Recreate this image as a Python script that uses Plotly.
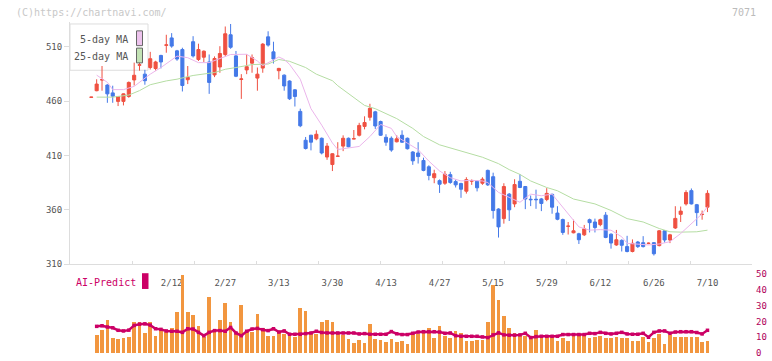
import plotly.graph_objects as go

# ---------------- data ----------------
tick_idx = [15, 25, 35, 45, 55, 65, 75, 85, 95, 105, 115]
tick_text = ["2/12", "2/27", "3/13", "3/30", "4/13", "4/27", "5/15", "5/29", "6/12", "6/26", "7/10"]

opens = [463.4, 469.5, 479.3, 474.7, 467.5, 459.7, 459.7, 464.2, 479.4, 492.9,
         484.7, 490.8, 489.9, 501.9, 511.2, 518.0, 506.1, 507.3, 479.6, 514.5,
         498.2, 500.3, 495.9, 484.0, 491.3, 502.8, 520.9, 501.5, 479.9, 488.6,
         494.8, 481.1, 490.3, 519.0, 505.2, 487.9, 483.8, 478.4, 470.3, 450.5,
         424.0, 428.6, 425.3, 425.8, 408.6, 401.7, 409.2, 418.6, 425.8, 425.2,
         428.6, 436.7, 445.1, 450.1, 441.2, 426.7, 425.8, 422.6, 428.6, 425.8,
         413.2, 412.3, 405.4, 399.6, 389.6, 386.9, 384.5, 392.4, 386.0, 384.2,
         377.2, 386.5, 386.3, 384.5, 396.3, 390.5, 360.8, 352.0, 374.5, 365.5,
         386.3, 381.5, 369.8, 369.8, 370.1, 369.6, 374.3, 357.1, 351.1, 344.9,
         339.0, 338.1, 337.1, 351.0, 348.9, 346.5, 355.2, 337.7, 327.8, 332.0,
         326.3, 321.8, 330.5, 329.9, 329.2, 329.9, 327.2, 340.8, 332.4, 343.4,
         355.9, 365.5, 377.7, 364.8, 355.8, 362.5]
highs = [463.8, 480.0, 492.2, 475.5, 474.1, 464.5, 467.0, 478.0, 495.3, 498.9,
         488.7, 505.2, 497.0, 502.5, 520.9, 522.4, 507.0, 509.0, 492.2, 519.6,
         512.7, 506.5, 502.8, 501.0, 510.4, 528.5, 530.8, 506.0, 484.7, 502.8,
         502.8, 490.8, 513.2, 524.1, 514.5, 490.5, 484.5, 479.0, 471.0, 453.0,
         427.0, 429.0, 433.1, 426.5, 421.5, 412.0, 422.2, 428.5, 426.5, 433.4,
         440.0, 446.0, 457.5, 451.0, 442.0, 429.5, 427.5, 428.6, 433.1, 426.5,
         414.0, 422.2, 408.0, 401.0, 396.9, 388.0, 395.7, 395.0, 387.8, 385.0,
         390.0, 388.0, 387.0, 390.0, 397.0, 394.2, 361.5, 384.5, 375.5, 388.2,
         392.8, 382.0, 373.2, 378.6, 371.0, 380.0, 375.0, 363.4, 352.0, 348.9,
         351.0, 339.0, 346.2, 352.0, 352.0, 352.0, 358.0, 338.5, 341.6, 333.0,
         336.2, 332.9, 331.5, 335.9, 330.0, 330.5, 341.5, 341.5, 338.0, 363.4,
         363.1, 378.1, 379.7, 365.5, 359.4, 378.1]
lows = [463.2, 469.0, 469.5, 458.4, 458.4, 455.4, 456.0, 463.0, 474.3, 487.9,
        475.0, 489.0, 488.0, 490.0, 504.4, 509.0, 497.0, 468.8, 475.6, 500.0,
        496.8, 495.9, 466.6, 482.0, 486.0, 501.0, 508.0, 482.0, 462.0, 484.7,
        486.0, 469.5, 486.0, 510.0, 494.5, 480.0, 469.5, 461.0, 455.0, 436.0,
        415.5, 414.7, 424.0, 411.0, 406.0, 395.7, 409.0, 414.0, 417.5, 425.0,
        427.5, 434.0, 442.0, 434.4, 428.0, 418.9, 413.4, 422.0, 421.5, 415.5,
        401.4, 402.6, 395.5, 387.2, 384.5, 375.6, 383.0, 384.0, 380.6, 371.1,
        375.0, 383.0, 377.0, 383.0, 382.0, 352.0, 334.6, 347.4, 349.8, 362.5,
        380.0, 360.7, 363.5, 361.0, 358.9, 368.0, 356.5, 350.5, 337.1, 337.4,
        338.5, 328.7, 336.0, 339.3, 339.3, 345.0, 334.0, 324.4, 327.0, 321.8,
        321.0, 321.0, 325.0, 325.5, 328.5, 318.1, 326.5, 330.0, 329.5, 342.5,
        348.9, 364.0, 365.0, 345.3, 351.0, 358.0]
closes = [463.6, 475.6, 479.7, 466.6, 464.5, 464.2, 466.6, 477.1, 483.7, 493.3,
          478.7, 498.9, 495.9, 495.9, 511.6, 510.5, 498.6, 474.3, 481.8, 501.5,
          507.3, 505.8, 477.1, 499.1, 503.7, 521.8, 509.4, 482.8, 480.3, 491.6,
          499.9, 484.7, 512.3, 511.4, 498.6, 490.0, 473.9, 462.1, 464.2, 437.3,
          416.4, 422.2, 429.5, 412.3, 418.6, 411.6, 409.4, 425.8, 418.0, 425.4,
          437.6, 440.3, 453.3, 437.1, 428.6, 422.2, 415.0, 425.3, 422.2, 416.2,
          405.1, 409.0, 396.3, 391.7, 393.3, 383.6, 392.7, 385.2, 383.0, 379.0,
          387.8, 386.7, 380.3, 388.2, 383.0, 359.4, 344.4, 381.5, 360.1, 383.3,
          380.6, 370.0, 369.4, 369.4, 365.9, 375.2, 362.5, 351.4, 339.3, 345.1,
          340.8, 332.6, 342.6, 348.3, 343.8, 351.0, 334.7, 329.6, 332.6, 327.5,
          321.8, 329.3, 326.3, 326.3, 329.4, 319.7, 340.8, 332.4, 337.1, 352.2,
          358.9, 376.0, 365.5, 357.5, 356.0, 375.2]

ma5_idx = [1, 3, 4, 6, 8, 9, 11, 13, 16, 18, 20, 22, 24, 26, 29, 31, 32, 35, 36, 37,
           39, 41, 43, 45, 46, 48, 50, 52, 54, 56, 57, 59, 61, 63, 65, 67, 69, 71, 73, 74,
           76, 78, 80, 82, 84, 86, 87, 89, 91, 93, 95, 97, 99, 100, 102, 104, 106, 108, 110, 112,
           114, 115]
ma5_val = [483.8, 477.2, 470.5, 470.5, 473.5, 477.2, 484.7, 490.8, 501.3, 499.8,
           495.3, 495.3, 498.9, 502.8, 503.0, 496.8, 492.5, 500.5, 498.2, 493.7,
           480.1, 453.0, 437.9, 421.5, 415.5, 416.8, 418.3, 427.4, 438.5, 434.9,
           427.4, 421.3, 415.4, 404.8, 395.8, 389.6, 386.6, 387.2, 386.6, 385.1,
           376.1, 371.5, 367.0, 374.5, 373.0, 374.5, 368.4, 356.4, 344.4, 341.4,
           341.9, 341.4, 335.3, 329.3, 328.7, 327.8, 328.7, 330.8, 338.3, 347.3,
           356.4, 363.0]

ma25_idx = [1, 4, 7, 9, 11, 14, 16, 19, 23, 25, 27, 30, 33, 35, 37, 40, 42, 45, 46, 48,
            51, 53, 55, 57, 60, 62, 65, 67, 69, 73, 76, 78, 80, 82, 85, 87, 90, 94, 97, 100,
            103, 106, 108, 110, 113, 115]
ma25_val = [463.6, 463.6, 465.5, 469.6, 475.0, 478.5, 480.1, 483.5, 486.2, 489.2,
            490.8, 493.5, 494.0, 498.2, 496.5, 490.8, 484.7, 478.7, 474.1, 466.6,
            456.0, 453.0, 448.5, 443.9, 434.9, 427.4, 419.8, 416.8, 413.8, 408.4,
            402.5, 397.0, 392.6, 386.6, 380.6, 377.6, 370.0, 365.5, 359.5, 352.0,
            348.9, 342.9, 339.9, 339.6, 339.9, 341.4]

volume = [None, 11.2, 14.4, 21.2, 9.4, 8.8, 9.4, 10.0, 19.4, 19.4,
          12.5, 19.4, 10.6, 14.4, 13.1, 15.6, 26.2, 49.4, 26.2, 24.4,
          16.9, 10.0, 35.6, 14.4, 20.6, 31.9, 19.4, 13.1, 30.6, 14.4,
          13.1, 25.0, 15.6, 10.6, 10.6, 13.1, 11.9, 12.5, 10.0, 28.8,
          26.9, 12.5, 11.9, 19.4, 20.6, 19.4, 12.5, 11.2, 8.8, 6.2,
          8.1, 6.2, 18.1, 8.8, 8.1, 6.9, 8.8, 6.9, 7.5, 6.0,
          12.0, 12.0, 12.7, 16.0, 9.2, 17.3, 10.8, 9.8, 14.2, 12.9,
          7.3, 7.9, 8.5, 8.5, 19.8, 42.9, 33.5, 23.5, 16.0, 12.9,
          11.7, 11.0, 9.8, 14.8, 9.8, 10.4, 10.4, 7.9, 9.2, 7.3,
          12.9, 11.7, 11.7, 9.2, 10.4, 11.0, 9.8, 9.2, 10.4, 9.8,
          9.2, 7.3, 7.3, 10.4, 6.7, 9.8, 12.3, 6.0, 11.7, 10.4,
          10.4, 10.4, 10.4, 10.4, 6.7, 7.3]

ai_predict = [None, 16.9, 17.3, 16.5, 16.0, 14.4, 14.0, 14.5, 17.5, 18.3,
              18.5, 17.7, 15.4, 15.0, 14.0, 13.8, 13.8, 13.1, 15.4, 15.2,
              13.1, 11.0, 13.1, 14.2, 14.2, 13.8, 16.2, 12.7, 11.0, 13.8,
              15.2, 15.6, 14.8, 14.2, 15.4, 13.3, 14.0, 11.9, 11.9, 11.9,
              12.3, 12.7, 13.8, 13.0, 12.7, 12.7, 12.7, 12.7, 12.7, 12.7,
              12.1, 12.3, 11.9, 11.9, 11.9, 11.9, 13.6, 12.2, 11.7, 11.7,
              12.5, 13.3, 13.5, 13.5, 13.5, 13.3, 12.5, 12.7, 11.0, 10.6,
              10.6, 10.6, 10.6, 10.2, 9.8, 11.5, 12.8, 11.5, 11.3, 11.3,
              11.5, 12.5, 9.8, 10.4, 10.6, 10.6, 10.6, 10.6, 11.7, 11.7,
              11.7, 11.7, 11.7, 12.5, 12.3, 13.1, 12.5, 12.1, 12.5, 13.1,
              12.1, 11.9, 11.9, 12.5, 10.0, 13.1, 14.0, 14.0, 12.5, 13.3,
              13.5, 13.5, 13.5, 13.0, 12.1, 14.4]

price_ticks = [310, 360, 410, 460, 510]
vol_ticks = [0, 10, 20, 30, 40, 50]

# ---------------- layout helpers (pixel -> paper) ----------------
W, H = 772, 361
L, R, T, B = 70, 752, 22, 358
def pxx(px):
    return (px - L) / (R - L)
def pxy(py):
    return (B - py) / (B - T)

FONT = "DejaVu Sans Mono"
RED = "#EF5041"
BLUE = "#4479E8"
idx = list(range(len(opens)))

fig = go.Figure()
fig.add_trace(go.Candlestick(
    x=idx, open=opens, high=highs, low=lows, close=closes,
    increasing=dict(line=dict(color=RED, width=1), fillcolor=RED),
    decreasing=dict(line=dict(color=BLUE, width=1), fillcolor=BLUE),
    whiskerwidth=0, xaxis="x", yaxis="y", showlegend=False, hoverinfo="skip"))
fig.add_trace(go.Scatter(x=ma25_idx, y=ma25_val, mode="lines",
                         line=dict(color="#B5DDA3", width=1), xaxis="x", yaxis="y",
                         showlegend=False, hoverinfo="skip"))
fig.add_trace(go.Scatter(x=ma5_idx, y=ma5_val, mode="lines",
                         line=dict(color="#EBB5EB", width=1), xaxis="x", yaxis="y",
                         showlegend=False, hoverinfo="skip"))
fig.add_trace(go.Bar(x=idx, y=volume, marker=dict(color="#F2963F", line=dict(width=0)),
                     width=0.69, xaxis="x2", yaxis="y2", showlegend=False, hoverinfo="skip"))
fig.add_trace(go.Scatter(x=idx, y=ai_predict, mode="lines+markers",
                         line=dict(color="#CC0066", width=2.5),
                         marker=dict(color="#CC0066", size=3.5, symbol="square"),
                         xaxis="x2", yaxis="y2", showlegend=False, hoverinfo="skip"))
# helper trace so the pixel-tick overlay axis is drawn
fig.add_trace(go.Scatter(x=[None], y=[None], xaxis="x3", yaxis="y", showlegend=False,
                         hoverinfo="skip"))

x_lo = (L - 91.3) / 5.358
x_hi = (R - 91.3) / 5.358
y_top = 310 + (268 - T) / 1.105

fig.update_layout(
    width=W, height=H,
    margin=dict(l=L, r=W - R, t=T, b=H - B),
    paper_bgcolor="white", plot_bgcolor="rgba(0,0,0,0)",
    bargap=0, boxgap=0.18,
    font=dict(family=FONT, color="#555555", size=9),
    xaxis=dict(domain=[0, 1], anchor="y", range=[x_lo, x_hi],
               tickvals=tick_idx, ticktext=tick_text,
               ticks="outside", ticklen=10, tickcolor="rgba(0,0,0,0)",
               tickfont=dict(family=FONT, size=9, color="#555555"),
               showline=True, linecolor="#DDDDDD", linewidth=1,
               showgrid=False, zeroline=False, rangeslider=dict(visible=False)),
    yaxis=dict(domain=[pxy(268), 1], anchor="x", range=[310, y_top],
               tickvals=price_ticks, ticks="outside", ticklen=5, tickcolor="#DDDDDD",
               tickfont=dict(family=FONT, size=9, color="#555555"),
               showline=True, linecolor="#DDDDDD", linewidth=1,
               showgrid=False, zeroline=False),
    xaxis2=dict(domain=[0, 1], anchor="y2", matches="x", visible=False),
    yaxis2=dict(domain=[0, pxy(B - 52 * 1.6)], anchor="x2", range=[0, 52], side="right",
                tickvals=vol_ticks, ticks="", showline=False, showgrid=False, zeroline=False,
                ticklabelstandoff=3,
                tickfont=dict(family=FONT, size=9, color="#B0005A")),
    xaxis3=dict(overlaying="x", anchor="y", side="bottom", range=[L, R],
                tickvals=list(range(L, R + 1, 62)), ticks="inside", ticklen=3,
                tickcolor="#DDDDDD", showticklabels=False, showline=False,
                showgrid=False, zeroline=False),
)

shapes = [
    dict(type="rect", xref="paper", yref="paper", x0=pxx(70), x1=pxx(148),
         y0=pxy(71), y1=pxy(24), fillcolor="white", line=dict(color="#DDDDDD", width=1),
         layer="below"),
    dict(type="rect", xref="paper", yref="paper", x0=pxx(136.5), x1=pxx(142.5),
         y0=pxy(46), y1=pxy(31), fillcolor="#EDC3ED", line=dict(color="#666666", width=1)),
    dict(type="rect", xref="paper", yref="paper", x0=pxx(136.5), x1=pxx(142.5),
         y0=pxy(63.5), y1=pxy(48.5), fillcolor="#C3E3B5", line=dict(color="#666666", width=1)),
    dict(type="rect", xref="paper", yref="paper", x0=pxx(142), x1=pxx(148.5),
         y0=pxy(293), y1=pxy(277), fillcolor="#CC0066", line=dict(width=0)),
]
annotations = [
    dict(text="(C)https://chartnavi.com/", x=pxx(14), y=pxy(12), xref="paper", yref="paper",
         xanchor="left", yanchor="middle", showarrow=False,
         font=dict(family=FONT, size=10, color="#C8C8C8")),
    dict(text="7071", x=pxx(758), y=pxy(12), xref="paper", yref="paper",
         xanchor="right", yanchor="middle", showarrow=False,
         font=dict(family=FONT, size=10, color="#BBBBBB")),
    dict(text="5-day MA", x=pxx(130), y=pxy(40), xref="paper", yref="paper",
         xanchor="right", yanchor="middle", showarrow=False,
         font=dict(family=FONT, size=10, color="#555555")),
    dict(text="25-day MA", x=pxx(130), y=pxy(57), xref="paper", yref="paper",
         xanchor="right", yanchor="middle", showarrow=False,
         font=dict(family=FONT, size=10, color="#555555")),
    dict(text="AI-Predict", x=pxx(74), y=pxy(286), xref="paper", yref="paper",
         xanchor="left", yanchor="middle", showarrow=False,
         font=dict(family=FONT, size=10, color="#CC0066")),
]
fig.update_layout(shapes=shapes, annotations=annotations)

fig.write_html("out.html")
